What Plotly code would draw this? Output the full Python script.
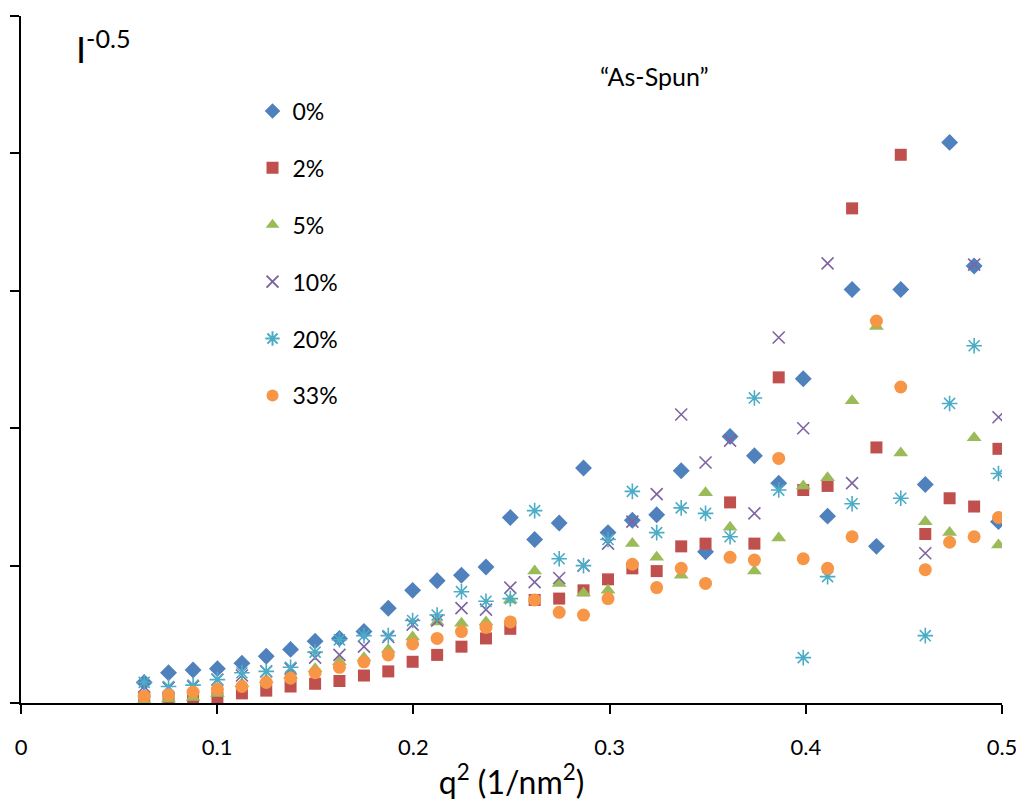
import plotly.graph_objects as go

q2 = [0.0628 + 0.01244 * i for i in range(36)]
q2 = [round(v, 4) for v in q2]

s0 = [0.15, 0.22, 0.24, 0.25, 0.29, 0.34, 0.39, 0.45, 0.47, 0.52, 0.69, 0.82, 0.89, 0.93, 0.99,
      1.35, 1.19, 1.31, 1.71, 1.24, 1.33, 1.37, 1.69, 1.10, 1.94, 1.80, 1.60, 2.36, 1.36, 3.01,
      1.14, 3.01, 1.59, 4.08, 3.18, 1.32]
s2 = [0.04, 0.04, 0.02, 0.04, 0.07, 0.09, 0.12, 0.14, 0.16, 0.20, 0.23, 0.30, 0.35, 0.41, 0.47,
      0.54, 0.75, 0.76, 0.82, 0.90, 0.98, 0.96, 1.14, 1.16, 1.46, 1.16, 2.37, 1.55, 1.58, 3.60,
      1.86, 3.99, 1.23, 1.49, 1.43, 1.85]
s5 = [0.02, 0.03, 0.04, 0.07, 0.14, 0.17, 0.20, 0.25, 0.30, 0.33, 0.39, 0.48, 0.59, 0.58, 0.59,
      0.75, 0.96, 0.87, 0.80, 0.82, 1.16, 1.06, 0.93, 1.53, 1.28, 0.96, 1.20, 1.58, 1.64, 2.20,
      2.74, 1.82, 1.32, 1.24, 1.93, 1.15]
s10 = [0.12, 0.11, 0.12, 0.17, 0.20, 0.23, 0.25, 0.33, 0.35, 0.41, 0.48, 0.57, 0.60, 0.69, 0.68,
       0.84, 0.88, 0.91, 1.00, 1.16, 1.32, 1.52, 2.10, 1.75, 1.91, 1.38, 2.66, 2.00, 3.20, 1.60,
       None, None, 1.09, None, 3.19, 2.08]
s20 = [0.15, 0.12, 0.13, 0.17, 0.22, 0.23, 0.26, 0.37, 0.46, 0.49, 0.49, 0.60, 0.64, 0.81, 0.74,
       0.76, 1.40, 1.05, 1.00, 1.19, 1.54, 1.24, 1.42, 1.38, 1.21, 2.22, 1.55, 0.33, 0.92, 1.45,
       None, 1.49, 0.49, 2.18, 2.60, 1.67]
s33 = [0.05, 0.06, 0.08, 0.10, 0.12, 0.15, 0.18, 0.22, 0.26, 0.30, 0.35, 0.43, 0.47, 0.52, 0.55,
       0.59, 0.75, 0.66, 0.64, 0.76, 1.01, 0.84, 0.98, 0.87, 1.06, 1.04, 1.78, 1.05, 0.98, 1.21,
       2.78, 2.30, 0.97, 1.17, 1.21, 1.35]

names = ["0%", "2%", "5%", "10%", "20%", "33%"]
series = [s0, s2, s5, s10, s20, s33]
colors = ["#4F81BD", "#C0504D", "#9BBB59", "#8064A2", "#4BACC6", "#F79646"]
symbols = ["diamond", "square", "triangle-up", "x-thin-open", "asterisk-open", "circle"]
sizes = [13, 12, 13, 12, 13, 13]

x_ticks = [0, 0.1, 0.2, 0.3, 0.4, 0.5]
x_tick_text = ["0", "0.1", "0.2", "0.3", "0.4", "0.5"]
y_ticks = [0, 1, 2, 3, 4, 5]

fig = go.Figure()
for name, ys, c, sym, sz in zip(names, series, colors, symbols, sizes):
    line = dict(width=1.6, color=c) if "open" in sym else dict(width=0)
    fig.add_trace(go.Scatter(
        x=q2, y=ys, mode="markers", name=name, legendgroup=name,
        marker=dict(symbol=sym, color=c, size=sz, line=line),
    ))

fig.update_layout(
    width=1024, height=799,
    margin=dict(l=13, r=30, t=8, b=104),
    paper_bgcolor="white", plot_bgcolor="white",
    font=dict(family="Lato, Open Sans, sans-serif", color="black"),
    showlegend=True,
    legend=dict(x=0.236, y=0.893, xanchor="left", yanchor="top",
                font=dict(size=23, color="black"), tracegroupgap=24,
                bgcolor="rgba(0,0,0,0)", itemsizing="constant"),
    xaxis=dict(range=[0, 0.5], tickvals=x_ticks, ticktext=x_tick_text, automargin=False,
               showgrid=False, zeroline=False, showline=True, linecolor="black",
               linewidth=2, ticks="outside", ticklen=9, tickwidth=2, tickcolor="black",
               ticklabelstandoff=15,
               tickfont=dict(size=22),
               title=dict(text="q<sup>2</sup> (1/nm<sup>2</sup>)", font=dict(size=32), standoff=12)),
    yaxis=dict(range=[0, 5], tickvals=y_ticks, showticklabels=False, automargin=False,
               showgrid=False, zeroline=False, showline=True, linecolor="black",
               linewidth=2, ticks="outside", ticklen=9, tickwidth=2, tickcolor="black"),
    annotations=[
        dict(text="I<sup>-0.5</sup>", xref="paper", yref="paper", x=0.054, y=0.955,
             xanchor="left", yanchor="middle", showarrow=False, font=dict(size=36)),
        dict(text="“As-Spun”", xref="paper", yref="paper", x=0.646, y=0.913,
             xanchor="center", yanchor="middle", showarrow=False, font=dict(size=25)),
    ],
)

fig.write_html("out.html")
